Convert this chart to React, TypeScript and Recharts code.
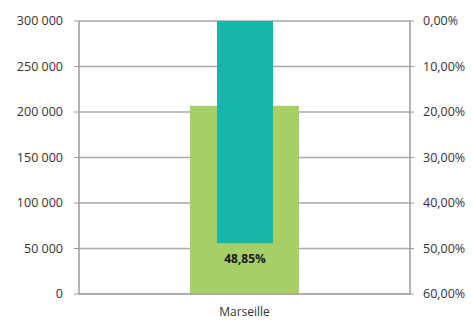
import React from 'react';
import {
    BarChart,
    Bar,
    XAxis,
    YAxis,
    CartesianGrid,
    LabelList
} from 'recharts';

const categories = ['Marseille'];
const amounts = [207000];
const rates = [0.4885];
const amountTicks = [0, 50000, 100000, 150000, 200000, 250000, 300000];
const rateTicks = [0, 0.1, 0.2, 0.3, 0.4, 0.5, 0.6];

const chartData = categories.map((name, i) => ({
    name,
    amount: amounts[i],
    rate: rates[i]
}));

const fmtAmount = (v: number) => String(v).replace(/\B(?=(\d{3})+(?!\d))/g, ' ');
const fmtRate = (v: number) => `${(v * 100).toFixed(2).replace('.', ',')}%`;

const FONT = '"Open Sans", sans-serif';
const tickStyle = { fill: '#333333', fontSize: 12.5, fontFamily: FONT };

// label drawn just under the end of the teal bar
const RateLabel = (props: any) => {
    const { x, y, width, height, value } = props;
    const bottom = y + Math.max(height, 0);
    return (
        <text
            x={x + width / 2}
            y={bottom + 20}
            textAnchor="middle"
            fill="#1a1a1a"
            fontSize={12}
            fontWeight={700}
            fontFamily={FONT}
        >
            {fmtRate(value)}
        </text>
    );
};

const App: React.FC = () => {
    return (
        <div style={{ position: 'absolute', left: 0, top: 0, background: '#fff' }}>
            <BarChart
                width={473}
                height={320}
                data={chartData}
                margin={{ top: 21, right: 0, left: 0, bottom: 0 }}
            >
                <CartesianGrid
                    yAxisId="left"
                    vertical={false}
                    stroke="#a9a9a9"
                    strokeWidth={1.5}
                />
                <XAxis
                    xAxisId="a"
                    dataKey="name"
                    height={26}
                    axisLine={{ stroke: '#9a9a9a' }}
                    tickLine={false}
                    tick={{ ...tickStyle, fontSize: 12 }}
                    dy={5}
                />
                <XAxis xAxisId="b" dataKey="name" hide />
                <YAxis
                    yAxisId="left"
                    orientation="left"
                    width={79}
                    domain={[0, 300000]}
                    ticks={amountTicks}
                    tickFormatter={fmtAmount}
                    axisLine={{ stroke: '#9a9a9a', strokeWidth: 1.5 }}
                    tickLine={{ stroke: '#9a9a9a' }}
                    tickSize={5}
                    tickMargin={11}
                    tick={tickStyle}
                />
                <YAxis
                    yAxisId="right"
                    orientation="right"
                    width={63}
                    domain={[0, 0.6]}
                    reversed
                    ticks={rateTicks}
                    tickFormatter={fmtRate}
                    axisLine={{ stroke: '#9a9a9a', strokeWidth: 1.5 }}
                    tickLine={{ stroke: '#9a9a9a' }}
                    tickSize={4}
                    tickMargin={9}
                    tick={tickStyle}
                />
                <Bar
                    xAxisId="a"
                    yAxisId="left"
                    dataKey="amount"
                    fill="#a6cf68"
                    barSize={109}
                    isAnimationActive={false}
                />
                <Bar
                    xAxisId="b"
                    yAxisId="right"
                    dataKey="rate"
                    fill="#18b5aa"
                    barSize={56}
                    isAnimationActive={false}
                >
                    <LabelList dataKey="rate" content={RateLabel} />
                </Bar>
            </BarChart>
        </div>
    );
};

export default App;
